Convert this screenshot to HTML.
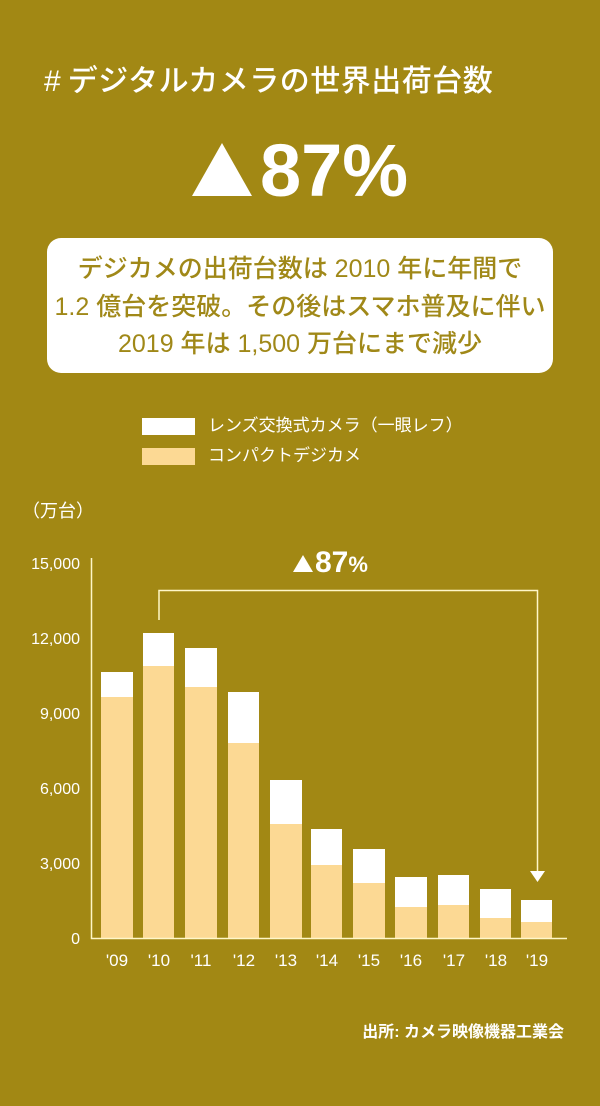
<!DOCTYPE html>
<html><head><meta charset="utf-8"><style>
*{margin:0;padding:0}
body{width:600px;height:1106px;background:#a28814;position:relative;overflow:hidden;font-family:"Liberation Sans","Noto Sans CJK JP",sans-serif;color:#fff}
.a{position:absolute;white-space:nowrap}
</style></head><body>
<div class="a" style="left:44px;top:56px;font-size:30px;font-weight:500;letter-spacing:0.5px">#&thinsp;デジタルカメラの世界出荷台数</div>
<div class="a" style="left:192px;top:143px;width:0;height:0;border-left:30px solid transparent;border-right:30px solid transparent;border-bottom:53px solid #fff"></div>
<div class="a" style="left:260px;top:126px;font-size:74px;font-weight:bold;line-height:90px">87%</div>
<div class="a" style="left:47px;top:238px;width:506px;height:135px;background:#fff;border-radius:14px"></div>
<div class="a" style="left:47px;top:251px;width:506px;text-align:center;font-size:25px;line-height:37.5px;color:#a08818;font-weight:500">デジカメの出荷台数は 2010 年に年間で<br>1.2 億台を突破。その後はスマホ普及に伴い<br>2019 年は 1,500 万台にまで減少</div>
<div class="a" style="left:142px;top:418px;width:53px;height:17px;background:#fff"></div>
<div class="a" style="left:142px;top:448px;width:53px;height:17px;background:#fcd994"></div>
<div class="a" style="left:208px;top:414px;font-size:17px;line-height:24px">レンズ交換式カメラ（一眼レフ）</div>
<div class="a" style="left:208px;top:444px;font-size:17px;line-height:24px">コンパクトデジカメ</div>
<div class="a" style="left:22px;top:497px;font-size:18px">（万台）</div>
<svg class="a" style="left:0;top:0" width="600" height="1106">
<g fill="#fff" font-size="16" text-anchor="end" font-family="Liberation Sans, sans-serif">
<text x="80" y="569">15,000</text><text x="80" y="644">12,000</text><text x="80" y="719">9,000</text>
<text x="80" y="794">6,000</text><text x="80" y="869">3,000</text><text x="80" y="944">0</text>
</g>
<g fill="#fcd994">
<rect x="101" y="697" width="32" height="241"/><rect x="143" y="666" width="31" height="272"/>
<rect x="185" y="687" width="32" height="251"/><rect x="228" y="743" width="31" height="195"/>
<rect x="270" y="824" width="32" height="114"/><rect x="311" y="865" width="31" height="73"/>
<rect x="353" y="883" width="32" height="55"/><rect x="395" y="907" width="32" height="31"/>
<rect x="438" y="905" width="31" height="33"/><rect x="480" y="918" width="31" height="20"/>
<rect x="521" y="922" width="31" height="16"/>
</g>
<g fill="#fff">
<rect x="101" y="672" width="32" height="25"/><rect x="143" y="633" width="31" height="33"/>
<rect x="185" y="648" width="32" height="39"/><rect x="228" y="692" width="31" height="51"/>
<rect x="270" y="780" width="32" height="44"/><rect x="311" y="829" width="31" height="36"/>
<rect x="353" y="849" width="32" height="34"/><rect x="395" y="877" width="32" height="30"/>
<rect x="438" y="875" width="31" height="30"/><rect x="480" y="889" width="31" height="29"/>
<rect x="521" y="900" width="31" height="22"/>
</g>
<path d="M91.5 558V938.5H567" stroke="#fff7c8" stroke-width="1.5" fill="none"/>
<path d="M159 620V590.5H537.5V874" stroke="#fff7c8" stroke-width="1.5" fill="none"/>
<polygon points="530,871 545,871 537.5,882" fill="#fff"/>
<polygon points="293,572 313,572 303,555" fill="#fff"/>
<text x="315" y="572" fill="#fff" font-size="30" font-weight="bold" font-family="Liberation Sans, sans-serif">87<tspan font-size="22">%</tspan></text>
<g fill="#fff" font-size="17" text-anchor="middle" font-family="Liberation Sans, sans-serif">
<text x="117" y="966">'09</text><text x="159" y="966">'10</text><text x="201" y="966">'11</text>
<text x="244" y="966">'12</text><text x="286" y="966">'13</text><text x="327" y="966">'14</text>
<text x="369" y="966">'15</text><text x="411" y="966">'16</text><text x="454" y="966">'17</text>
<text x="496" y="966">'18</text><text x="537" y="966">'19</text>
</g>
</svg>
<div class="a" style="right:36px;top:1018px;font-size:16px;font-weight:bold">出所: カメラ映像機器工業会</div>
</body></html>
